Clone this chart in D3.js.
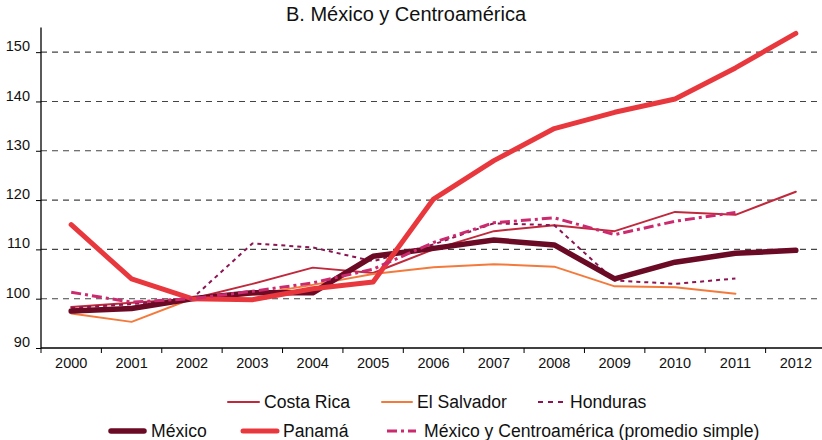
<!DOCTYPE html>
<html>
<head>
<meta charset="utf-8">
<script src="https://cdn.jsdelivr.net/npm/d3@7"></script>
<style>
  body { margin: 0; background: #fff; }
  text { font-family: "Liberation Sans", Arial, sans-serif; fill: #111; }
</style>
</head>
<body>
<script>
// years on the x axis
var years = [2000, 2001, 2002, 2003, 2004, 2005, 2006, 2007, 2008, 2009, 2010, 2011, 2012];
var yTicks = [90, 100, 110, 120, 130, 140, 150];

// index values (2002 = 100), null where no data
var costaRica  = [98.3, 99.2, 100, 103.0, 106.3, 105.2, 110.0, 113.7, 114.9, 113.7, 117.6, 117.0, 121.7];
var elSalvador = [97.0, 95.3, 100, 100.8, 102.8, 105.0, 106.4, 107.0, 106.5, 102.5, 102.3, 101.0, null];
var honduras   = [98.1, 98.9, 100, 111.2, 110.4, 107.6, 111.0, 115.3, 114.9, 103.7, 103.0, 104.1, null];
var mexico     = [97.5, 98.0, 100, 101.2, 101.2, 108.6, 110.2, 111.9, 110.9, 104.0, 107.4, 109.2, 109.8];
var panama     = [115.0, 104.0, 100, 99.8, 102.0, 103.4, 120.2, 128.0, 134.5, 137.8, 140.5, 146.8, 153.8];
var promedio   = [101.3, 99.3, 100, 101.5, 103.2, 106.0, 111.4, 115.4, 116.4, 113.0, 115.7, 117.5, null];

var width = 822;
var height = 440;

var svg = d3.select('body')
            .append('svg')
            .attr('width', width)
            .attr('height', height);

var x = d3.scaleBand()
          .domain(years)
          .range([41, 826])
          .padding(0);

var y = d3.scaleLinear()
          .domain([90, 155])
          .range([348, 27.5]);

var cx = function(yr) { return x(yr) + x.bandwidth() / 2; };

// title
svg.append('text')
   .attr('x', 406)
   .attr('y', 21)
   .attr('text-anchor', 'middle')
   .style('font-size', '20px')
   .text('B. México y Centroamérica');

// gridlines
svg.selectAll('line.grid')
   .data(yTicks.slice(1))
   .enter()
   .append('line')
   .attr('class', 'grid')
   .attr('x1', 41)
   .attr('x2', 822)
   .attr('y1', function(d) { return y(d); })
   .attr('y2', function(d) { return y(d); })
   .attr('stroke', '#444')
   .attr('stroke-width', 1.1)
   .attr('stroke-dasharray', '6,5');

// y axis
var yAxis = d3.axisLeft(y).tickValues(yTicks).tickSize(5).tickPadding(6);
var gy = svg.append('g').attr('transform', 'translate(41,0)').call(yAxis);
gy.select('.domain').attr('stroke', '#000').attr('stroke-width', 1.3).attr('d', 'M0,' + y(155) + 'V' + y(90));
gy.selectAll('.tick line').attr('stroke', '#000');
gy.selectAll('.tick text').style('font-size', '14.5px').attr('dy', '-0.1em');

// x axis
var xAxis = d3.axisBottom(x).tickSize(0).tickPadding(10);
var gx = svg.append('g').attr('transform', 'translate(0,348)').call(xAxis);
gx.select('.domain').attr('stroke', '#000').attr('stroke-width', 1.3).attr('d', 'M41,0H822');
gx.selectAll('.tick text').style('font-size', '14.5px');
svg.selectAll('line.xt')
   .data(years)
   .enter()
   .append('line')
   .attr('class', 'xt')
   .attr('x1', function(d) { return x(d); })
   .attr('x2', function(d) { return x(d); })
   .attr('y1', 348)
   .attr('y2', 353)
   .attr('stroke', '#000');

var series = [
  {name: 'Costa Rica', values: costaRica, color: '#c0283c', w: 2, dash: null},
  {name: 'El Salvador', values: elSalvador, color: '#f47a3c', w: 2, dash: null},
  {name: 'Honduras', values: honduras, color: '#8b1550', w: 2, dash: '4,4'},
  {name: 'México', values: mexico, color: '#6b0a25', w: 5.5, dash: null},
  {name: 'Panamá', values: panama, color: '#e8383d', w: 5, dash: null},
  {name: 'México y Centroamérica (promedio simple)', values: promedio, color: '#cc2a6e', w: 3, dash: '10,4,3,4'}
];

var line = d3.line()
             .defined(function(d) { return d.v !== null; })
             .x(function(d) { return cx(d.yr); })
             .y(function(d) { return y(d.v); });

svg.selectAll('path.series')
   .data(series)
   .enter()
   .append('path')
   .attr('class', 'series')
   .attr('fill', 'none')
   .attr('stroke', function(d) { return d.color; })
   .attr('stroke-width', function(d) { return d.w; })
   .attr('stroke-dasharray', function(d) { return d.dash; })
   .attr('stroke-linejoin', 'round')
   .attr('stroke-linecap', function(d) { return d.dash ? 'butt' : 'round'; })
   .attr('d', function(d) {
     return line(years.map(function(yr, i) { return {yr: yr, v: d.values[i]}; }));
   });

// legend: line start, line end, text start, row
var legendPos = [
  {x1: 228, x2: 259, tx: 264, y: 402},
  {x1: 382, x2: 412, tx: 417, y: 402},
  {x1: 538, x2: 564, tx: 570, y: 402},
  {x1: 111, x2: 144, tx: 151, y: 431},
  {x1: 243, x2: 277, tx: 283, y: 431},
  {x1: 387, x2: 416, tx: 424, y: 431}
];

var lg = svg.selectAll('g.legend')
            .data(series)
            .enter()
            .append('g')
            .attr('class', 'legend');

lg.append('line')
  .attr('x1', function(d, i) { return legendPos[i].x1; })
  .attr('x2', function(d, i) { return legendPos[i].x2; })
  .attr('y1', function(d, i) { return legendPos[i].y; })
  .attr('y2', function(d, i) { return legendPos[i].y; })
  .attr('stroke', function(d) { return d.color; })
  .attr('stroke-width', function(d) { return d.w; })
  .attr('stroke-dasharray', function(d) { return d.name === 'Honduras' ? '5,5' : d.dash; })
  .attr('stroke-linecap', function(d) { return d.dash ? 'butt' : 'round'; });

lg.append('text')
  .attr('x', function(d, i) { return legendPos[i].tx; })
  .attr('y', function(d, i) { return legendPos[i].y + 6; })
  .style('font-size', '17.6px')
  .text(function(d) { return d.name; });
</script>
</body>
</html>
